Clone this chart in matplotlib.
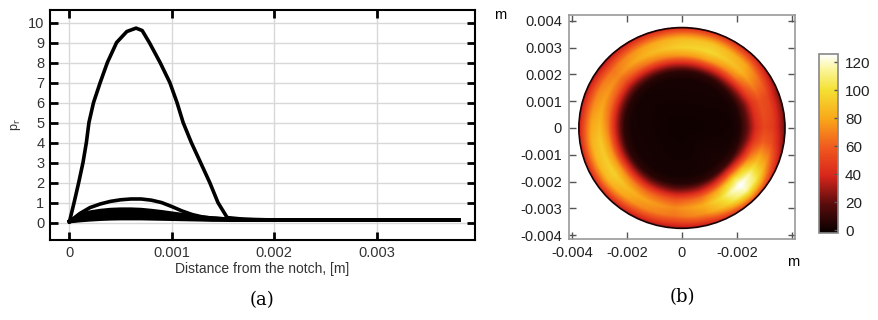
import numpy as np
import matplotlib
matplotlib.use('Agg')
import matplotlib.pyplot as plt
from matplotlib.colors import LinearSegmentedColormap

plt.rcParams['font.family'] = ['Liberation Sans', 'DejaVu Sans']

# ---- panel (a) data: p_r vs distance from the notch ----
x_main = [0, 0.000045, 0.00009, 0.000132, 0.000165, 0.00019, 0.000235, 0.0003,
          0.00037, 0.00046, 0.00056, 0.00065, 0.00071, 0.00078, 0.000885, 0.00098,
          0.00105, 0.00111, 0.00119, 0.00128, 0.00137, 0.00145, 0.00154, 0.0017,
          0.002, 0.0025, 0.003, 0.0035, 0.0038]
y_main = [0.05, 1.0, 2.0, 3.0, 4.0, 5.0, 6.0, 7.0,
          8.0, 9.0, 9.55, 9.72, 9.6, 9.0, 8.0, 7.0,
          6.0, 5.0, 4.0, 3.0, 2.0, 1.0, 0.25, 0.17,
          0.13, 0.12, 0.12, 0.12, 0.12]

x_low = [0, 0.0001, 0.0002, 0.0003, 0.0004, 0.0005, 0.0006, 0.0007, 0.0008,
         0.0009, 0.001, 0.0011, 0.0012, 0.0013, 0.0014, 0.0015, 0.0016,
         0.0018, 0.002, 0.0025, 0.003, 0.0035, 0.0038]
y_low = [
    [0.05, 0.45, 0.75, 0.93, 1.06, 1.14, 1.18, 1.18, 1.12, 1.0, 0.8, 0.58, 0.4,
     0.28, 0.22, 0.19, 0.17, 0.14, 0.12, 0.12, 0.12, 0.12, 0.12],
    [0.05, 0.38, 0.52, 0.6, 0.65, 0.67, 0.67, 0.65, 0.6, 0.54, 0.47, 0.4, 0.33,
     0.27, 0.22, 0.19, 0.16, 0.13, 0.12, 0.12, 0.12, 0.12, 0.12],
    [0.05, 0.32, 0.44, 0.52, 0.56, 0.58, 0.58, 0.56, 0.52, 0.47, 0.41, 0.35, 0.3,
     0.25, 0.21, 0.18, 0.15, 0.13, 0.12, 0.12, 0.12, 0.12, 0.12],
    [0.05, 0.26, 0.36, 0.42, 0.46, 0.48, 0.48, 0.46, 0.43, 0.39, 0.35, 0.3, 0.26,
     0.22, 0.19, 0.17, 0.15, 0.13, 0.12, 0.12, 0.12, 0.12, 0.12],
    [0.05, 0.2, 0.28, 0.33, 0.36, 0.38, 0.38, 0.37, 0.35, 0.32, 0.29, 0.26, 0.23,
     0.2, 0.18, 0.16, 0.14, 0.13, 0.12, 0.12, 0.12, 0.12, 0.12],
    [0.05, 0.15, 0.21, 0.25, 0.28, 0.29, 0.29, 0.28, 0.27, 0.25, 0.23, 0.21, 0.19,
     0.17, 0.15, 0.14, 0.13, 0.12, 0.12, 0.12, 0.12, 0.12, 0.12],
    [0.05, 0.1, 0.14, 0.17, 0.19, 0.2, 0.2, 0.2, 0.19, 0.18, 0.17, 0.16, 0.15,
     0.14, 0.13, 0.13, 0.12, 0.12, 0.12, 0.12, 0.12, 0.12, 0.12],
]

# ---- panel (b) data: ring field on the cross section ----
r_outer = 0.00375
ring_angles = [0, 20, 45, 70, 90, 115, 140, 165, 190, 215, 240, 265, 285, 298, 307,
               315, 324, 335, 350, 360]
ring_values = [52, 56, 86, 98, 95, 85, 72, 80, 92, 95, 80, 72, 82, 100, 118,
               128, 116, 88, 60, 52]
radial_r = [0, 0.0018, 0.0021, 0.0024, 0.0027, 0.003, 0.0033, 0.0035, 0.0037, 0.00375]
radial_w = [0.0, 0.02, 0.08, 0.4, 0.8, 1.0, 0.92, 0.72, 0.48, 0.38]

cb_ticks = [0, 20, 40, 60, 80, 100, 120]

fig = plt.figure(figsize=(8.79, 3.2), dpi=100)

# ---------------- (a) ----------------
ax = fig.add_axes([0.0569, 0.25, 0.4835, 0.719])
ax.plot(x_main, y_main, color='black', lw=2.6, solid_capstyle='round', zorder=3)
for yy in y_low:
    ax.plot(x_low, yy, color='black', lw=2.6, zorder=3)
ax.set_xlim(-0.00019, 0.00396)
ax.set_ylim(-0.87, 10.63)
ax.set_xticks([0, 0.001, 0.002, 0.003])
ax.set_xticklabels(['0', '0.001', '0.002', '0.003'])
ax.set_yticks(range(0, 11))
ax.grid(True, color='#d8d8d8', lw=1.0)
ax.set_axisbelow(True)
ax.tick_params(direction='in', length=6, width=2, top=True, right=True,
               labelsize=10.5, colors='black', labelcolor='#333333', pad=4)
for s in ax.spines.values():
    s.set_linewidth(1.5)
ax.set_xlabel('Distance from the notch, [m]', fontsize=10, color='#333333', labelpad=2)
ax.set_ylabel(r'p$_\mathrm{r}$', fontsize=9, color='#333333', labelpad=4)
fig.text(262 / 879, 1 - 300 / 320, '(a)', family='DejaVu Serif', fontsize=13,
         ha='center', va='center')

# ---------------- (b) ----------------
cmap = LinearSegmentedColormap.from_list('ring', [
    (0.0, '#080000'), (0.16, '#5a0c0c'), (0.32, '#d8261c'), (0.48, '#f05a1e'),
    (0.64, '#f9a81a'), (0.8, '#f4e032'), (0.92, '#fbf6a0'), (1.0, '#ffffff')])

bx = fig.add_axes([0.6473, 0.253, 0.257, 0.7])
g = np.linspace(-0.0042, 0.0042, 500)
X, Y = np.meshgrid(g, g)
R = np.hypot(X, Y)
TH = np.degrees(np.arctan2(Y, X)) % 360
field = np.interp(R, radial_r, radial_w) * np.interp(TH, ring_angles, ring_values)
field = np.ma.masked_where(R > r_outer, field)
im = bx.imshow(field, extent=[g[0], g[-1], g[0], g[-1]], origin='lower', cmap=cmap,
               vmin=-2, vmax=126, interpolation='bilinear', aspect='auto')
bx.add_patch(plt.Circle((0, 0), r_outer, fill=False, color='#1a0000', lw=1.2))
bx.set_xlim(-0.00411, 0.00411)
bx.set_ylim(-0.00415, 0.00422)
bx.set_xticks([-0.004, -0.002, 0, 0.002, 0.004])
bx.set_xticklabels(['-0.004', '-0.002', '0', '-0.002', ''])
bx.set_yticks([0.004, 0.003, 0.002, 0.001, 0, -0.001, -0.002, -0.003, -0.004])
bx.set_yticklabels(['0.004', '0.003', '0.002', '0.001', '0', '-0.001', '-0.002',
                    '-0.003', '-0.004'])
bx.tick_params(direction='in', length=5, width=1, top=True, right=True,
               labelsize=10.5, colors='#555555', labelcolor='#222222', pad=5)
for s in bx.spines.values():
    s.set_color('#999999')
    s.set_linewidth(1.2)
fig.text(500 / 879, 1 - 15 / 320, 'm', fontsize=10.5, ha='center', va='center')
fig.text(793 / 879, 1 - 262 / 320, 'm', fontsize=10.5, ha='center', va='center')
fig.text(682 / 879, 1 - 297 / 320, '(b)', family='DejaVu Serif', fontsize=13,
         ha='center', va='center')

cax = fig.add_axes([0.9317, 0.272, 0.0216, 0.559])
cb = fig.colorbar(im, cax=cax, ticks=cb_ticks)
cb.outline.set_edgecolor('#888888')
cb.outline.set_linewidth(1.2)
cax.tick_params(direction='in', length=3, width=1, colors='#555555',
                labelsize=11, labelcolor='#222222', pad=5)
cax.set_ylim(-2, 126)

fig.savefig('out.png', dpi=100)
